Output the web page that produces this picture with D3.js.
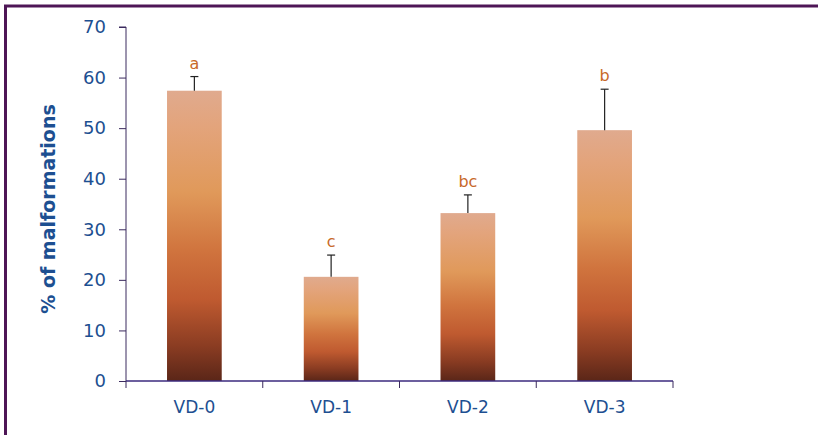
<!DOCTYPE html>
<html><head><meta charset="utf-8">
<script src="https://cdn.jsdelivr.net/npm/d3@7"></script>
<style>body{margin:0;background:#fff;}svg{display:block;}</style>
</head><body>
<svg id="c" width="818" height="435"></svg>
<script>
const categories = ["VD-0", "VD-1", "VD-2", "VD-3"];
const values = [57.4, 20.6, 33.2, 49.6];
const errors = [2.8, 4.3, 3.6, 8.1];
const letters = ["a", "c", "bc", "b"];
const yTicks = [0, 10, 20, 30, 40, 50, 60, 70];

const svg = d3.select("#c");
const blue = "#1d4f91";
const font = "Tahoma, 'DejaVu Sans', Verdana, sans-serif";

// frame
svg.append("path").attr("d", "M5.5,435 L5.5,6 L818,6")
  .attr("fill", "none").attr("stroke", "#4e1656").attr("stroke-width", 3);

const x0 = 126, x1 = 673, yTop = 27, yBot = 381;
const x = d3.scaleBand().domain(categories).range([x0, x1]).paddingInner(0.6).paddingOuter(0.3);
const y = d3.scaleLinear().domain([0, 70]).range([yBot, yTop]);

const defs = svg.append("defs");
const g = defs.append("linearGradient").attr("id", "bg").attr("x1", 0).attr("y1", 0).attr("x2", 0).attr("y2", 1);
[[0, "#e0aa8e"], [0.12, "#e3a47c"], [0.35, "#e0995a"], [0.55, "#d0743e"], [0.72, "#bf5a30"], [0.88, "#8a3c22"], [1, "#5a2618"]]
  .forEach(([o, c]) => g.append("stop").attr("offset", o).attr("stop-color", c));

// bars
svg.selectAll("rect.bar").data(categories).enter().append("rect")
  .attr("x", d => x(d)).attr("width", x.bandwidth())
  .attr("y", (d, i) => y(values[i])).attr("height", (d, i) => yBot - y(values[i]))
  .attr("fill", "url(#bg)");

// error bars
categories.forEach((d, i) => {
  const cx = x(d) + x.bandwidth() / 2;
  svg.append("line").attr("x1", cx).attr("x2", cx).attr("y1", y(values[i])).attr("y2", y(values[i] + errors[i]))
    .attr("stroke", "#222").attr("stroke-width", 1.2);
  svg.append("line").attr("x1", cx - 4).attr("x2", cx + 4).attr("y1", y(values[i] + errors[i])).attr("y2", y(values[i] + errors[i]))
    .attr("stroke", "#222").attr("stroke-width", 1.2);
  svg.append("text").attr("x", cx).attr("y", y(values[i] + errors[i]) - 8)
    .attr("text-anchor", "middle").attr("fill", "#c8692a").attr("font-family", font).attr("font-size", 16)
    .text(letters[i]);
});

// y axis
const yAxis = d3.axisLeft(y).tickValues(yTicks).tickSize(7).tickPadding(13);
const ya = svg.append("g").attr("transform", `translate(${x0},0)`).call(yAxis);
ya.select(".domain").attr("stroke", "#3b2a5e").attr("d", `M-7,${yTop}H0V${yBot}`);
ya.selectAll(".tick line").attr("stroke", "#3b2a5e");
ya.selectAll(".tick text").attr("fill", blue).attr("font-family", font).attr("font-size", 18);

// x axis
const xa = svg.append("g").attr("transform", `translate(0,${yBot})`);
xa.append("line").attr("x1", x0).attr("x2", x1).attr("stroke", "#3b2a7e").attr("stroke-width", 1.5);
const bounds = d3.range(categories.length + 1).map(i => x0 + (x1 - x0) * i / categories.length);
xa.selectAll("line.t").data(bounds).enter().append("line")
  .attr("x1", d => d).attr("x2", d => d).attr("y1", 0).attr("y2", 7).attr("stroke", "#3b2a5e");
xa.selectAll("text").data(categories).enter().append("text")
  .attr("x", d => x(d) + x.bandwidth() / 2).attr("y", 32)
  .attr("text-anchor", "middle").attr("fill", blue).attr("font-family", font).attr("font-size", 17)
  .text(d => d);

// y title
svg.append("text").attr("transform", `translate(55,209) rotate(-90)`)
  .attr("text-anchor", "middle").attr("fill", blue).attr("font-family", font)
  .attr("font-size", 19).attr("font-weight", "bold").text("% of malformations");
</script>
</body></html>
